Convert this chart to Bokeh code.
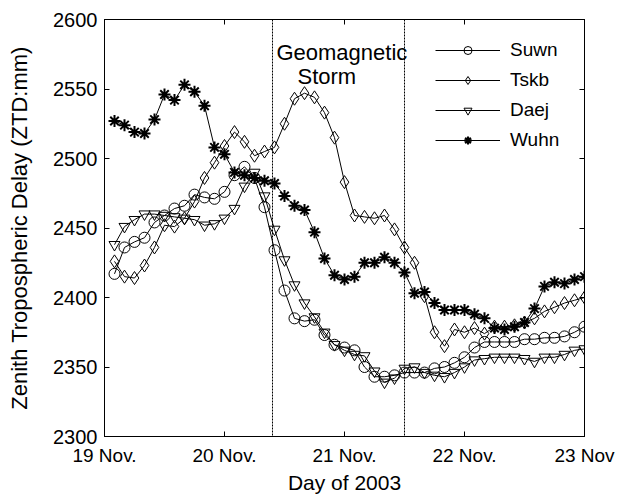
from bokeh.plotting import figure
from bokeh.models import (Range1d, FixedTicker, LinearAxis, Legend, LegendItem,
                          Label, Span)
from bokeh.embed import file_html
from bokeh.resources import INLINE

# 2-hourly samples, 19 Nov 02:00 .. 23 Nov 00:00 (day of month as fractional day)
n_pts = 48
days = [19 + (j + 1) / 12 for j in range(n_pts)]

suwn = [2417, 2436, 2440, 2443, 2454, 2459, 2464, 2466, 2474, 2472, 2471, 2476,
        2488, 2494, 2486, 2465, 2434, 2405, 2385, 2383, 2384, 2373, 2366, 2364,
        2362, 2350, 2343, 2343, 2344, 2346, 2346, 2346, 2349, 2350, 2353, 2357,
        2364, 2368, 2368, 2368, 2368, 2370, 2370, 2371, 2371, 2372, 2375, 2379]
tskb = [2426, 2415, 2414, 2423, 2436, 2452, 2451, 2457, 2469, 2486, 2497, 2509,
        2519, 2512, 2502, 2505, 2508, 2525, 2543, 2547, 2544, 2533, 2515, 2483,
        2459, 2458, 2457, 2459, 2449, 2436, 2425, 2401, 2375, 2365, 2377, 2375,
        2378, 2374, 2379, 2379, 2380, 2382, 2385, 2390, 2393, 2396, 2398, 2400]
daej = [2438, 2451, 2456, 2460, 2460, 2459, 2458, 2457, 2456, 2452, 2453, 2457,
        2464, 2480, 2490, 2473, 2449, 2427, 2409, 2396, 2386, 2375, 2366, 2362,
        2359, 2358, 2347, 2339, 2342, 2349, 2350, 2346, 2344, 2343, 2346, 2350,
        2355, 2356, 2357, 2357, 2357, 2356, 2354, 2357, 2357, 2359, 2362, 2363]
wuhn = [2527, 2524, 2519, 2518, 2528, 2546, 2542, 2553, 2548, 2538, 2508, 2503,
        2490, 2488, 2486, 2484, 2482, 2473, 2466, 2463, 2447, 2428, 2416, 2413,
        2415, 2425, 2425, 2429, 2425, 2418, 2403, 2404, 2396, 2391, 2391, 2391,
        2388, 2385, 2378, 2377, 2379, 2382, 2392, 2408, 2411, 2410, 2413, 2415]

series_names = ["Suwn", "Tskb", "Daej", "Wuhn"]
series_markers = ["circle", "diamond", "inverted_triangle", "asterisk"]

x_ticks = [19, 20, 21, 22, 23]
x_tick_labels = ["19 Nov.", "20 Nov.", "21 Nov.", "22 Nov.", "23 Nov"]
y_ticks = [2300, 2350, 2400, 2450, 2500, 2550, 2600]

storm_start = 20.4
storm_end = 21.5

FONT = "Liberation Sans"

p = figure(width=634, height=496, output_backend="svg", toolbar_location=None,
           x_range=Range1d(19, 23), y_range=Range1d(2300, 2600),
           min_border_left=104, min_border_right=50, min_border_top=19,
           min_border_bottom=59, background_fill_color="white",
           border_fill_color="white")
p.outline_line_color = "black"
p.outline_line_width = 1
p.xgrid.visible = False
p.ygrid.visible = False

for ax in (p.xaxis[0], p.yaxis[0]):
    ax.major_tick_in = 5
    ax.major_tick_out = 0
    ax.minor_tick_line_color = None
    ax.axis_line_color = "black"
    ax.major_tick_line_color = "black"
    ax.major_label_text_font = FONT
    ax.major_label_text_color = "black"
    ax.axis_label_text_font = FONT
    ax.axis_label_text_font_style = "normal"
    ax.axis_label_text_color = "black"

p.xaxis.ticker = FixedTicker(ticks=x_ticks)
p.xaxis.major_label_overrides = {t: l for t, l in zip(x_ticks, x_tick_labels)}
p.xaxis.major_label_text_font_size = "19px"
p.xaxis.axis_label = "Day of 2003"
p.xaxis.axis_label_text_font_size = "21px"
p.xaxis.major_label_standoff = 8
p.xaxis.axis_label_standoff = 2

p.yaxis.ticker = FixedTicker(ticks=y_ticks)
p.yaxis.major_label_text_font_size = "20px"
p.yaxis.axis_label = "Zenith Tropospheric Delay (ZTD:mm)"
p.yaxis.axis_label_text_font_size = "22px"
p.yaxis.major_label_standoff = 7
p.yaxis.axis_label_standoff = 18

# box axes on top and right with inward ticks, no labels
top = LinearAxis(ticker=FixedTicker(ticks=x_ticks), major_tick_in=5,
                 major_tick_out=0, minor_tick_line_color=None,
                 major_label_overrides={t: "" for t in x_ticks})
right = LinearAxis(ticker=FixedTicker(ticks=y_ticks), major_tick_in=5,
                   major_tick_out=0, minor_tick_line_color=None,
                   major_label_overrides={t: "" for t in y_ticks})
p.add_layout(top, "above")
p.add_layout(right, "right")

for xv in (storm_start, storm_end):
    p.add_layout(Span(location=xv, dimension="height", line_color="black",
                      line_width=1, line_dash="2 1"))

items = []
for name, mk, vals in zip(series_names, series_markers, [suwn, tskb, daej, wuhn]):
    ln = p.line(days, vals, line_color="black", line_width=1)
    if mk == "asterisk":
        sc = p.scatter(days, vals, marker=mk, size=12, line_color="black",
                       line_width=2)
    else:
        sc = p.scatter(days, vals, marker=mk, size=11 if mk != "diamond" else 13,
                       line_color="black", fill_color=None, line_width=1)
    items.append(LegendItem(label=name, renderers=[ln, sc]))

legend = Legend(items=items, location=(331, 285), padding=0, margin=0,
                border_line_color=None, background_fill_alpha=0,
                glyph_width=65, glyph_height=20, label_height=20, spacing=8,
                label_standoff=10, label_text_font=FONT,
                label_text_font_size="19px", label_text_color="black")
p.add_layout(legend, "center")

p.add_layout(Label(x=20.433, y=2576.3, text="Geomagnetic", text_font=FONT,
                   text_font_size="22px", text_baseline="alphabetic",
                   text_color="black"))
p.add_layout(Label(x=20.608, y=2559.0, text="Storm", text_font=FONT,
                   text_font_size="22px", text_baseline="alphabetic",
                   text_color="black"))

open("out.html", "w").write(file_html(p, INLINE))
